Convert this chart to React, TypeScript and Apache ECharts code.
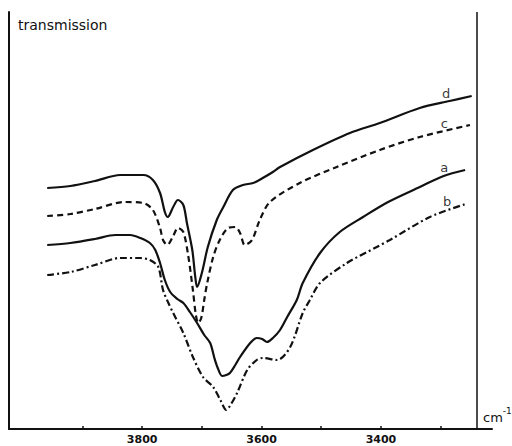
import React, { useEffect, useRef } from "react";
import * as echarts from "echarts";

// wavenumber (cm-1), transmission (arbitrary units)
const curveD: [number, number][] = [
  [3959, 241], [3920, 243], [3879, 248], [3837, 254], [3798, 254], [3782, 249],
  [3770, 236], [3762, 217], [3757, 212], [3748, 222], [3740, 229], [3731, 224],
  [3725, 206], [3716, 179], [3711, 152], [3708, 142], [3700, 156], [3690, 182],
  [3675, 209], [3664, 222], [3648, 239], [3631, 244], [3614, 246], [3598, 251],
  [3581, 257], [3569, 262], [3514, 279], [3452, 296], [3402, 306], [3335, 321],
  [3285, 328], [3248, 333],
];
const curveC: [number, number][] = [
  [3959, 213], [3920, 215], [3879, 220], [3829, 227], [3798, 226], [3782, 219],
  [3770, 201], [3765, 189], [3758, 184], [3748, 193], [3740, 201], [3731, 197],
  [3723, 174], [3715, 139], [3710, 114], [3706, 106], [3701, 111], [3696, 129],
  [3691, 146], [3681, 172], [3670, 189], [3656, 201], [3644, 202], [3636, 196],
  [3628, 184], [3616, 189], [3603, 209], [3586, 227], [3536, 246], [3474, 262],
  [3402, 279], [3335, 292], [3251, 304],
];
const curveA: [number, number][] = [
  [3959, 184], [3920, 186], [3879, 190], [3845, 194], [3820, 194], [3803, 191],
  [3787, 186], [3778, 179], [3770, 166], [3762, 149], [3753, 137], [3741, 130],
  [3731, 126], [3720, 117], [3708, 106], [3696, 94], [3686, 86], [3679, 71],
  [3674, 62], [3666, 53], [3659, 54], [3653, 56], [3644, 64], [3636, 72],
  [3619, 86], [3608, 91], [3599, 90], [3591, 87], [3581, 91], [3569, 99],
  [3557, 112], [3541, 129], [3531, 146], [3502, 176], [3469, 197], [3430, 212],
  [3388, 227], [3335, 242], [3295, 253], [3259, 259],
];
const curveB: [number, number][] = [
  [3959, 154], [3920, 157], [3879, 164], [3837, 171], [3803, 171], [3787, 169],
  [3773, 162], [3765, 139], [3756, 126], [3748, 116], [3731, 96], [3715, 72],
  [3698, 52], [3681, 42], [3669, 29], [3659, 19], [3653, 23], [3641, 36],
  [3624, 59], [3608, 69], [3598, 71], [3574, 69], [3552, 82], [3531, 116],
  [3519, 129], [3502, 146], [3457, 166], [3407, 182], [3385, 189], [3318, 212],
  [3258, 225],
];
const curveNames = ["d", "c", "a", "b"];
const curveLabelAnchors: [number, number][] = [
  [3291, 336], [3294, 306], [3294, 262], [3289, 228],
];
const tickValues = [3300, 3400, 3500, 3600, 3700, 3800, 3900];
const tickLabels = [3400, 3600, 3800];
const frameEdge = 3239;
const xMin = 3214;
const xMax = 4023;
const yMax = 417;

export default function App() {
  const ref = useRef<HTMLDivElement>(null);
  useEffect(() => {
    if (!ref.current) return;
    const chart = echarts.init(ref.current, undefined, { renderer: "svg" });
    const black = "#111";
    const solid = { color: black, width: 2.2 };
    chart.setOption({
      animation: false,
      backgroundColor: "#fff",
      color: [black],
      grid: { left: 9, right: 20, top: 12, bottom: 17, containLabel: false },
      xAxis: {
        type: "value",
        inverse: true,
        min: xMin,
        max: xMax,
        axisLine: { show: true, lineStyle: { color: black, width: 2 } },
        axisTick: {
          show: true,
          inside: true,
          length: 3,
          customValues: tickValues,
          lineStyle: { color: black, width: 1.5 },
        },
        axisLabel: {
          show: true,
          customValues: tickLabels,
          formatter: (v: number) => String(v),
          color: black,
          fontFamily: "DejaVu Sans",
          fontWeight: "bold",
          fontSize: 11,
          margin: 5,
        },
        splitLine: { show: false },
      },
      yAxis: {
        type: "value",
        min: 0,
        max: yMax,
        axisLine: { show: true, lineStyle: { color: black, width: 2 } },
        axisTick: { show: false },
        axisLabel: { show: false },
        splitLine: { show: false },
      },
      series: [
        {
          name: "d",
          type: "line",
          data: curveD,
          showSymbol: false,
          smooth: 0.3,
          lineStyle: solid,
          markLine: {
            silent: true,
            symbol: "none",
            label: { show: false },
            lineStyle: { color: black, width: 1.5, type: "solid" },
            data: [{ xAxis: frameEdge }],
          },
        },
        {
          name: "c",
          type: "line",
          data: curveC,
          showSymbol: false,
          smooth: 0.3,
          lineStyle: { color: black, width: 2.2, type: [6, 4] },
        },
        {
          name: "a",
          type: "line",
          data: curveA,
          showSymbol: false,
          smooth: 0.3,
          lineStyle: solid,
        },
        {
          name: "b",
          type: "line",
          data: curveB,
          showSymbol: false,
          smooth: 0.3,
          lineStyle: { color: black, width: 2.2, type: [7, 3, 2, 3] },
        },
        {
          name: "labels",
          type: "scatter",
          symbolSize: 1,
          itemStyle: { color: "transparent" },
          data: curveLabelAnchors.map((p, i) => ({ value: p, name: curveNames[i] })),
          label: {
            show: true,
            position: "inside",
            formatter: (p: any) => p.name,
            color: "#000",
            textBorderWidth: 0,
            textShadowBlur: 0,
            fontFamily: "DejaVu Sans",
            fontSize: 13,
          },
        },
      ],
      graphic: [
        {
          type: "text",
          left: 18,
          top: 18,
          style: {
            text: "transmission",
            fill: black,
            font: "14px 'DejaVu Sans'",
          },
        },
        {
          type: "text",
          left: 483,
          top: 406,
          style: {
            text: "{m|cm}{s|-1}",
            rich: {
              m: { fontFamily: "DejaVu Sans", fontSize: 13, fill: black, padding: [8, 0, 0, 0] },
              s: { fontFamily: "DejaVu Sans", fontSize: 9, fill: black, padding: [0, 0, 6, 0] },
            },
          },
        },
      ],
    });
    return () => chart.dispose();
  }, []);
  return <div ref={ref} style={{ width: 512, height: 446, position: "absolute", left: 0, top: 0 }} />;
}
